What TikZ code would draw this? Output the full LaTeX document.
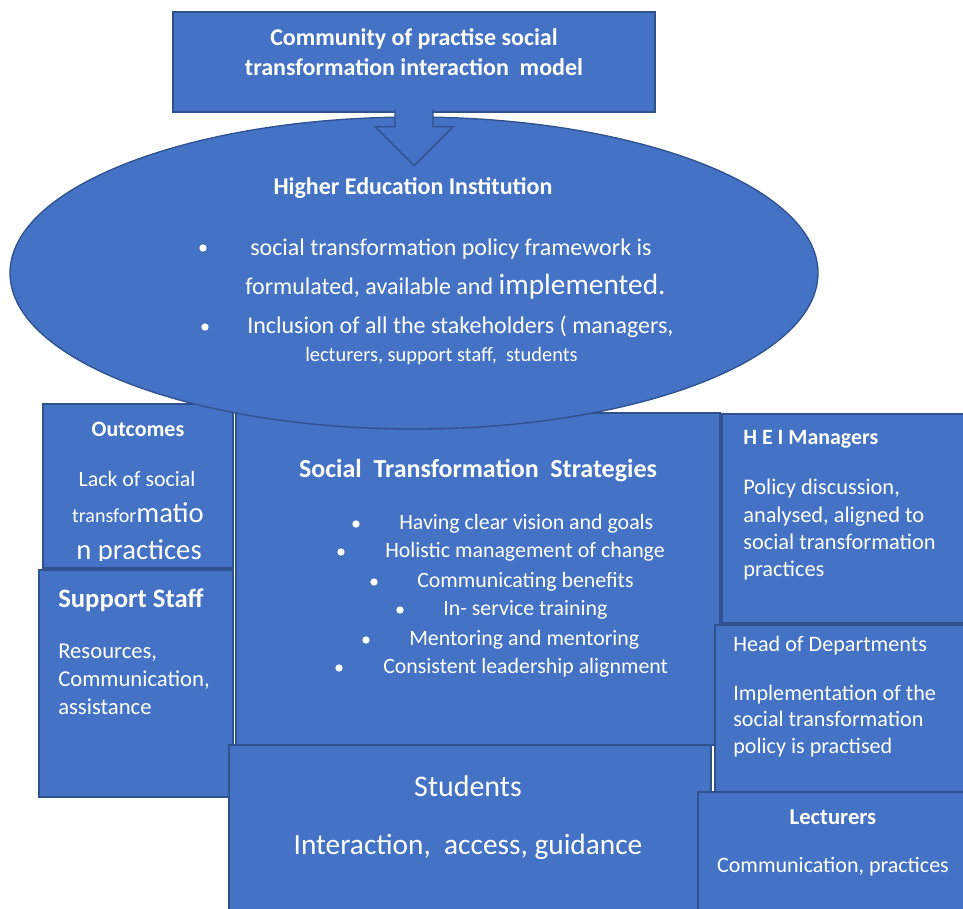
\documentclass[tikz,border=0pt]{standalone}
\usepackage{fontspec}
\setmainfont{Carlito}
\usetikzlibrary{positioning,fit,shapes.geometric,calc}

\definecolor{boxblue}{RGB}{68,114,196}
\definecolor{boxline}{RGB}{47,82,143}

\begin{document}
\begin{tikzpicture}[x=0.75pt,y=-0.75pt,
  box/.style={draw=boxline,fill=boxblue,line width=1pt,inner sep=0pt},
  txt/.style={text=white,inner sep=0pt,font=\fontsize{16.4}{20}\selectfont},
  hd/.style={text=white,inner sep=0pt,font=\bfseries\fontsize{16.4}{20}\selectfont},
  dot/.style={circle,fill=white,inner sep=0pt,minimum size=5.5pt}]

  \useasboundingbox (0,0) rectangle (963,908);
  \clip (0,0) rectangle (963,908);

  % strategies in the middle
  \node[box,fit={(236,413) (720,745)}] (strat) {};
  \node[hd,font=\bfseries\fontsize{19.5}{22}\selectfont] (strathd) at (478,471) {Social\ \ Transformation\ \ Strategies};
  \foreach \bx/\tx/\y/\item in {356/399/524/Having clear vision and goals,
      341/385/552/Holistic management of change,
      374/417/582/Communicating benefits,
      400/443/610/In- service training,
      366/409/640/Mentoring and mentoring,
      339/383/668/Consistent leadership alignment}{
    \node[dot] at (\bx,\y) {};
    \node[txt,anchor=west] at (\tx,\y) {\item};
  }

  % outcomes, last line cut off by its frame
  \node[box,fit={(43,404) (233,568)}] (outcomes) {};
  \node[hd,font=\bfseries\fontsize{16.5}{20}\selectfont] (outhd) at (138,429) {Outcomes};
  \node[txt] (out1) at (137,479) {Lack of social};
  \node[txt] (out2) at (138,513) {\fontsize{15}{18}\selectfont transfor{\fontsize{21.5}{24}\selectfont matio}};
  \begin{scope}
    \clip (43,530) rectangle (233,560);
    \node[txt,font=\fontsize{21.5}{24}\selectfont] (out3) at (139,552) {n practices};
  \end{scope}

  % higher education institution
  \node[box,ellipse,minimum width=606pt,minimum height=234pt] (hei) at (414,273) {};
  \node[hd,font=\bfseries\fontsize{18}{21}\selectfont] (heihd) at (413,188) {Higher Education Institution};
  \node[dot] (b1) at (203,248) {};
  \node[txt,anchor=west,font=\fontsize{18}{21}\selectfont] (h1) at (250,249) {social transformation policy framework is};
  \node[txt,anchor=west,font=\fontsize{18}{21}\selectfont] (h2) at (245,287) {formulated, available and {\fontsize{22}{25}\selectfont implemented.}};
  \node[dot] (b2) at (205,327) {};
  \node[txt,anchor=west,font=\fontsize{18}{21}\selectfont] (h3) at (247,327) {Inclusion of all the stakeholders ( managers,};
  \node[txt,anchor=west,font=\fontsize{15.3}{18}\selectfont] (h4) at (305,356) {lecturers, support staff,\ \ students};

  % support staff
  \node[box,fit={(39,570) (233,797)}] (support) {};
  \node[hd,anchor=west,font=\bfseries\fontsize{20}{23}\selectfont] (suphd) at (58,600) {Support Staff};
  \node[txt,anchor=west,align=left,font=\fontsize{17}{21}\selectfont] (suptx) at (58,679) {Resources,\\Communication,\\assistance};

  % managers
  \node[box,fit={(722,414) (975,623)}] (managers) {};
  \node[hd,anchor=west] (manhd) at (743,439) {H E I Managers};
  \node[txt,anchor=west,align=left,font=\fontsize{16.8}{20.5}\selectfont] (mantx) at (743,530) {Policy discussion,\\analysed, aligned to\\social transformation\\practices};

  % heads of departments
  \node[box,fit={(715,625) (975,792)}] (hod) {};
  \node[txt,anchor=west,font=\fontsize{16.6}{20}\selectfont] (hodhd) at (733,646) {Head of Departments};
  \node[txt,anchor=west,align=left,font=\fontsize{16.6}{20}\selectfont] (hodtx) at (733,721) {Implementation of the\\social transformation\\policy is practised};

  % students
  \node[box,fit={(229,745) (711,920)}] (students) {};
  \node[txt,font=\fontsize{22.5}{26}\selectfont] (stuhd) at (468,786) {Students};
  \node[txt,font=\fontsize{22}{26}\selectfont] (stutx) at (468,847) {Interaction,\ \ access, guidance};

  % lecturers
  \node[box,fit={(698,792) (975,920)}] (lecturers) {};
  \node[hd,font=\bfseries\fontsize{17}{20}\selectfont] (lechd) at (833,817) {Lecturers};
  \node[txt,font=\fontsize{16.5}{20}\selectfont] (lectx) at (833,867) {Communication, practices};

  % model title and its block arrow
  \node[box,fit={(173,12) (655,112)}] (title) {};
  \node[hd,align=center,font=\bfseries\fontsize{18}{22.5}\selectfont] (titletx) at (414,52) {Community of practise social\\transformation interaction\ \ model};
  \filldraw[draw=boxline,fill=boxblue,line width=1pt]
    ($(title.south)+(-19,-3)$) -- ($(title.south)+(-19,14)$) -- ($(title.south)+(-39,14)$)
    -- ($(title.south)+(0,53)$) -- ($(title.south)+(39,14)$) -- ($(title.south)+(19,14)$)
    -- ($(title.south)+(19,-3)$);
\end{tikzpicture}
\end{document}
